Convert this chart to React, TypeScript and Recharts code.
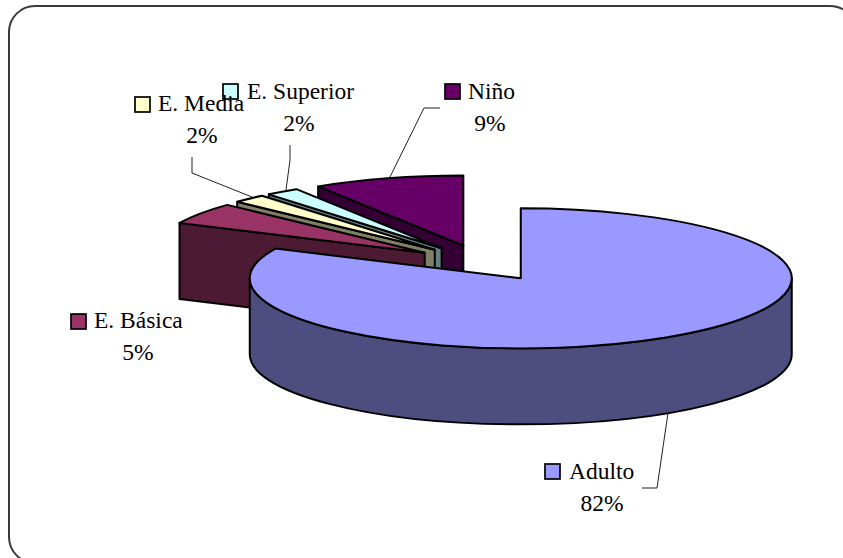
import { Pie, PieChart } from "recharts";

const categories = ["Niño", "E. Superior", "E. Media", "E. Básica", "Adulto"];
const values = [9, 2, 2, 5, 82];
const topColors = ["#660066", "#CCFFFF", "#FFFFCC", "#993366", "#9999FF"];
const wallColors = ["#330033", "#668080", "#808066", "#4D1A33", "#4D4D80"];

const data = categories.map((name, i) => ({
  name,
  value: values[i],
  fill: topColors[i],
  wall: wallColors[i],
}));

// flattened, exploded 3D look
const SQUASH = 70 / 271;
const EXPLODE = 0.26;
const DEPTH = 76;
const RAD = Math.PI / 180;

// hand placed labels, same order as categories
const labelLayout = [
  { key: [445, 84], text: [468, 99], pct: [490, 131], leader: "440,108 424,108 390,177" },
  { key: [223, 84], text: [247, 99], pct: [299, 131], leader: "290,145 290,160 286,190" },
  { key: [135, 97], text: [158, 111], pct: [202, 143], leader: "192,157 192,173 252,197" },
  { key: [71, 314], text: [94, 328], pct: [138, 360], leader: "" },
  { key: [545, 464], text: [569, 479], pct: [602, 511], leader: "642,488 657,488 668,413" },
];

function Slice3D(props: any) {
  const { cx, cy, outerRadius: r, startAngle, endAngle, fill, payload } = props;
  const mid = ((startAngle + endAngle) / 2) * RAD;
  const ox = cx + EXPLODE * r * Math.cos(mid);
  const oy = cy - EXPLODE * r * SQUASH * Math.sin(mid);
  const px = (deg: number) => ox + r * Math.cos(deg * RAD);
  const py = (deg: number) => oy - r * SQUASH * Math.sin(deg * RAD);
  const ry = r * SQUASH;
  const sweep = endAngle - startAngle;

  const faces = [];
  // radial faces turned towards the viewer
  if (Math.cos(endAngle * RAD) < -0.001) {
    faces.push(`M${ox},${oy}L${px(endAngle)},${py(endAngle)}v${DEPTH}L${ox},${oy + DEPTH}Z`);
  }
  if (Math.cos(startAngle * RAD) > 0.001) {
    faces.push(`M${ox},${oy}L${px(startAngle)},${py(startAngle)}v${DEPTH}L${ox},${oy + DEPTH}Z`);
  }
  // outer wall, front half only
  const a0 = Math.max(startAngle, 180);
  const a1 = Math.min(endAngle, 360);
  if (a1 > a0) {
    faces.push(
      `M${px(a0)},${py(a0)}A${r},${ry} 0 0 0 ${px(a1)},${py(a1)}v${DEPTH}A${r},${ry} 0 0 1 ${px(a0)},${py(a0) + DEPTH}Z`
    );
  }
  const top = `M${ox},${oy}L${px(startAngle)},${py(startAngle)}A${r},${ry} 0 ${sweep > 180 ? 1 : 0} 0 ${px(endAngle)},${py(endAngle)}Z`;

  return (
    <g>
      {faces.map((d, i) => (
        <path key={i} d={d} fill={payload.wall} stroke="#000" strokeWidth={2} strokeLinejoin="round" />
      ))}
      <path d={top} fill={fill} stroke="#000" strokeWidth={2} strokeLinejoin="round" />
    </g>
  );
}

function SliceLabel(props: any) {
  const { index, name, percent, fill } = props;
  const l = labelLayout[index];
  const font = { fontFamily: "Liberation Serif", fontSize: 23.5, fill: "#000" };
  return (
    <g>
      {l.leader && <polyline points={l.leader} fill="none" stroke="#222" strokeWidth={1} />}
      <rect x={l.key[0]} y={l.key[1]} width={15} height={15} fill={fill} stroke="#000" strokeWidth={1.7} />
      <text x={l.text[0]} y={l.text[1]} {...font}>{name}</text>
      <text x={l.pct[0]} y={l.pct[1]} textAnchor="middle" {...font}>{`${Math.round(percent * 100)}%`}</text>
    </g>
  );
}

export default function App() {
  return (
    <div style={{ position: "absolute", left: 0, top: 0, width: 843, height: 558, background: "#fff", overflow: "hidden" }}>
      <div
        style={{
          position: "absolute",
          left: 8,
          top: 5,
          width: 849,
          height: 559,
          border: "2px solid #3a3a3a",
          borderRadius: 27,
          boxSizing: "border-box",
        }}
      />
      <div style={{ position: "absolute", left: 0, top: 0 }}>
        <PieChart width={843} height={558} margin={{ top: 0, right: 0, bottom: 0, left: 0 }}>
          <Pie
            data={data}
            dataKey="value"
            nameKey="name"
            cx={483}
            cy={263}
            innerRadius={0}
            outerRadius={271}
            startAngle={90}
            endAngle={450}
            paddingAngle={0}
            shape={Slice3D}
            label={SliceLabel}
            labelLine={false}
            isAnimationActive={false}
          />
        </PieChart>
      </div>
    </div>
  );
}
